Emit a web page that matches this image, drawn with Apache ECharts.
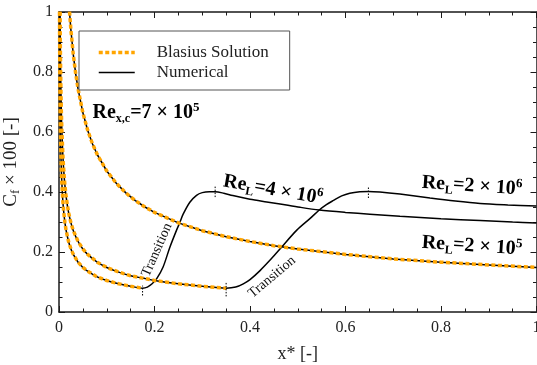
<!DOCTYPE html>
<html>
<head>
<meta charset="utf-8">
<script src="https://cdn.jsdelivr.net/npm/echarts@6/dist/echarts.min.js"></script>
<style>html,body{margin:0;padding:0;background:#fff}#c{width:537px;height:365px}</style>
</head>
<body>
<div id="c"></div>
<script>
// ---- Data ----
// Blasius laminar solution, Re_L = 2e5
const xB2e5 = [0.022,0.025,0.03,0.035,0.04,0.05,0.06,0.07,0.08,0.1,0.12,0.14,0.16,0.18,0.2,0.25,0.3,0.35,0.4,0.45,0.5,0.6,0.7,0.8,0.9,1.0];
const yB2e5 = [1.001,0.939,0.857,0.794,0.743,0.664,0.606,0.561,0.525,0.470,0.429,0.397,0.371,0.350,0.332,0.297,0.271,0.251,0.235,0.221,0.210,0.192,0.177,0.166,0.157,0.1485];
// Blasius laminar solution, Re_L = 2e6 (up to transition)
const xB2e6 = [0.0022,0.0025,0.003,0.004,0.005,0.006,0.008,0.01,0.0125,0.015,0.02,0.025,0.03,0.04,0.05,0.06,0.08,0.1,0.125,0.15,0.175,0.2,0.25,0.3,0.35];
const yB2e6 = [1.001,0.939,0.857,0.742,0.664,0.606,0.525,0.470,0.420,0.383,0.332,0.297,0.271,0.235,0.210,0.192,0.166,0.1485,0.133,0.121,0.113,0.105,0.094,0.0857,0.0794];
// Blasius laminar solution, Re_L = 4e6 (up to transition)
const xB4e6 = [0.0011,0.00125,0.0015,0.002,0.0025,0.003,0.004,0.005,0.006,0.008,0.01,0.0125,0.015,0.02,0.025,0.03,0.04,0.05,0.06,0.08,0.1,0.125,0.15,0.175];
const yB4e6 = [1.001,0.939,0.857,0.742,0.664,0.606,0.525,0.470,0.429,0.371,0.332,0.297,0.271,0.235,0.210,0.192,0.166,0.1485,0.136,0.117,0.105,0.094,0.0857,0.0794];
// Numerical: transition + turbulent part, Re_L = 4e6
const xT4e6 = [0.185,0.195,0.205,0.218,0.232,0.246,0.253,0.260,0.274,0.288,0.300,0.315,0.327,0.345,0.364,0.400,0.435,0.463,0.505,0.545,0.600,0.651,0.714,0.800,0.882,0.950,1.0];
const yT4e6 = [0.083,0.094,0.112,0.150,0.215,0.272,0.298,0.326,0.366,0.389,0.398,0.401,0.401,0.396,0.388,0.376,0.367,0.360,0.349,0.340,0.332,0.326,0.319,0.311,0.305,0.300,0.297];
// Numerical: transition + turbulent part, Re_L = 2e6
const xT2e6 = [0.37,0.386,0.40,0.421,0.445,0.466,0.498,0.526,0.545,0.56,0.575,0.592,0.609,0.63,0.648,0.672,0.714,0.777,0.83,0.882,0.94,1.0];
const yT2e6 = [0.083,0.094,0.108,0.138,0.178,0.216,0.273,0.312,0.340,0.358,0.372,0.387,0.396,0.401,0.402,0.400,0.393,0.380,0.370,0.362,0.357,0.353];
// Dotted vertical markers (transition onset and peak)
const markX  = [0.175, 0.35, 0.327, 0.648];
const markLo = [0.055, 0.052, 0.383, 0.380];
const markHi = [0.088, 0.100, 0.420, 0.420];
// Axis ticks
const xTicks = {min: 0, max: 1, interval: 0.2};
const yTicks = {min: 0, max: 1, interval: 0.2};

const FONT = "'Liberation Serif', 'Times New Roman', serif";
const ORANGE = '#FFA500';
const INK = '#1a1a1a';

function pts(xs, ys) { return xs.map((x, i) => [x, ys[i]]); }

const chart = echarts.init(document.getElementById('c'), null, {renderer: 'canvas'});

const axisCommon = {
  type: 'value',
  axisLine: {show: true, onZero: false, lineStyle: {color: INK, width: 1.5}},
  axisTick: {show: true, inside: true, length: 6, lineStyle: {color: INK, width: 1}},
  minorTick: {show: true, splitNumber: 4, length: 3.5, lineStyle: {color: INK, width: 1}},
  splitLine: {show: false},
  minorSplitLine: {show: false}
};

const numStyle = {color: '#000', width: 1.5};
const blaStyle = {color: ORANGE, width: 3.5, type: [4, 2.5], cap: 'butt'};

const series = [
  {name: 'Numerical', type: 'line', data: pts(xB2e5, yB2e5), symbol: 'none', lineStyle: numStyle, itemStyle: {color: '#000'}, z: 2},
  {name: 'Numerical', type: 'line', data: pts(xB2e6, yB2e6).concat(pts(xT2e6, yT2e6)), symbol: 'none', smooth: 0.3, lineStyle: numStyle, itemStyle: {color: '#000'}, z: 2},
  {name: 'Numerical', type: 'line', data: pts(xB4e6, yB4e6).concat(pts(xT4e6, yT4e6)), symbol: 'none', smooth: 0.3, lineStyle: numStyle, itemStyle: {color: '#000'}, z: 2},
  {name: 'Blasius Solution', type: 'line', data: pts(xB2e5, yB2e5), symbol: 'none', lineStyle: blaStyle, itemStyle: {color: ORANGE}, z: 3},
  {name: 'Blasius Solution', type: 'line', data: pts(xB2e6, yB2e6), symbol: 'none', lineStyle: blaStyle, itemStyle: {color: ORANGE}, z: 3},
  {name: 'Blasius Solution', type: 'line', data: pts(xB4e6, yB4e6), symbol: 'none', lineStyle: blaStyle, itemStyle: {color: ORANGE}, z: 3}
];
markX.forEach((x, i) => {
  series.push({name: 'marker' + i, type: 'line', data: [[x, markLo[i]], [x, markHi[i]]], symbol: 'none',
    lineStyle: {color: '#000', width: 1, type: [1.5, 1.5]}, z: 4, silent: true});
});

const richRe = {
  b: {fontFamily: FONT, fontSize: 20, fontWeight: 'bold', lineHeight: 24, fill: '#000'},
  s: {fontFamily: FONT, fontSize: 12, fontWeight: 'bold', lineHeight: 14, verticalAlign: 'bottom', fill: '#000'},
  p: {fontFamily: FONT, fontSize: 13, fontWeight: 'bold', lineHeight: 20, verticalAlign: 'top', fill: '#000'}
};
function reLabel(text, x, y, deg) {
  return {type: 'text', x: x, y: y, rotation: deg * Math.PI / 180, z: 10,
    style: {text: text, rich: richRe, align: 'center', verticalAlign: 'middle', fill: '#000'}};
}
function transLabel(x, y, deg) {
  return {type: 'text', x: x, y: y, rotation: deg * Math.PI / 180, z: 10,
    style: {text: 'Transition', fontFamily: FONT, fontSize: 14, fill: '#111', align: 'center', verticalAlign: 'middle'}};
}

chart.setOption({
  animation: false,
  backgroundColor: '#fff',
  grid: {left: 59, right: 0.5, top: 12, bottom: 53, containLabel: false, outerBoundsMode: 'none'},
  legend: {
    orient: 'vertical', left: 79, top: 31,
    padding: [13, 21, 9, 18], itemGap: 3, itemWidth: 36, itemHeight: 14,
    borderColor: '#555', borderWidth: 1, borderRadius: 0, backgroundColor: '#fff',
    textStyle: {fontFamily: FONT, fontSize: 17, color: '#222', padding: [0, 0, 0, 17]},
    data: [
      {name: 'Blasius Solution', lineStyle: {color: ORANGE, width: 3.5, type: [4, 2.5]}, itemStyle: {opacity: 0}},
      {name: 'Numerical', lineStyle: {color: '#000', width: 1.5, type: 'solid'}, itemStyle: {opacity: 0}}
    ]
  },
  xAxis: [
    Object.assign({}, axisCommon, xTicks, {position: 'bottom',
      axisLabel: {fontFamily: FONT, fontSize: 16, color: '#222', margin: 8},
      name: 'x* [-]', nameLocation: 'middle', nameGap: 33,
      nameTextStyle: {fontFamily: FONT, fontSize: 18, color: '#222'}}),
    Object.assign({}, axisCommon, xTicks, {position: 'top', axisLabel: {show: false}})
  ],
  yAxis: [
    Object.assign({}, axisCommon, yTicks, {position: 'left',
      axisLabel: {fontFamily: FONT, fontSize: 16, color: '#222', margin: 6},
      name: '{m|C}{s|f}{m| × 100 [-]}', nameLocation: 'middle', nameGap: 32, nameRotate: 90,
      nameTextStyle: {color: '#222', rich: {
        m: {fontFamily: FONT, fontSize: 19, color: '#222', lineHeight: 22},
        s: {fontFamily: FONT, fontSize: 13, color: '#222', lineHeight: 14, verticalAlign: 'bottom'}
      }}}),
    Object.assign({}, axisCommon, yTicks, {position: 'right', axisLabel: {show: false}})
  ],
  series: series,
  graphic: [
    reLabel('{b|Re}{s|x,c}{b|=7 × 10}{p|5}', 146, 113, 0),
    reLabel('{b|Re}{s|L}{b|=4 × 10}{p|6}', 273, 190, -10),
    reLabel('{b|Re}{s|L}{b|=2 × 10}{p|6}', 472, 186, -4),
    reLabel('{b|Re}{s|L}{b|=2 × 10}{p|5}', 472, 246, -4),
    transLabel(157, 250, 66),
    transLabel(272, 277, 40)
  ]
});
</script>
</body>
</html>
